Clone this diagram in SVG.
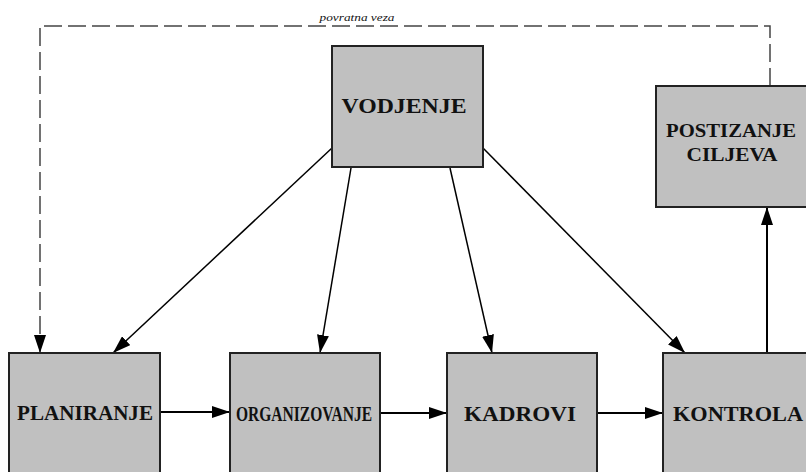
<svg xmlns="http://www.w3.org/2000/svg" width="806" height="472" viewBox="0 0 806 472">
<style>
.box{fill:#c0c0c0;stroke:#222;stroke-width:2}
.lbl{font-family:'Liberation Serif','Times New Roman',Times,serif;font-weight:bold;fill:#111;text-anchor:middle}
.ln{stroke:#000;stroke-width:1.5;fill:none}
.hl{stroke:#000;stroke-width:2;fill:none}
.dash{stroke:#444;stroke-width:1.5;fill:none;stroke-dasharray:18 6}
.note{font-family:'Liberation Serif','Times New Roman',Times,serif;font-style:italic;font-size:11px;fill:#111;text-anchor:middle}
</style>
<defs>
<marker id="ah" markerUnits="userSpaceOnUse" markerWidth="18" markerHeight="12" refX="18" refY="6" orient="auto" viewBox="0 0 18 12">
<path d="M0,0 L18,6 L0,12 z" fill="#000"/>
</marker>
</defs>
<rect width="806" height="472" fill="#fff"/>
<g id="connectors">
<path class="dash" d="M770,86 V26 H40 V353" marker-end="url(#ah)"/>
<text class="note" x="357" y="21" textLength="75" lengthAdjust="spacingAndGlyphs">povratna veza</text>
<line class="ln" x1="332" y1="148" x2="113" y2="353" marker-end="url(#ah)"/>
<line class="ln" x1="351" y1="168" x2="320" y2="353" marker-end="url(#ah)"/>
<line class="ln" x1="450" y1="168" x2="492" y2="353" marker-end="url(#ah)"/>
<line class="ln" x1="483" y1="148" x2="685" y2="353" marker-end="url(#ah)"/>
<line class="hl" x1="160" y1="412" x2="230" y2="412" marker-end="url(#ah)"/>
<line class="hl" x1="380" y1="413" x2="447" y2="413" marker-end="url(#ah)"/>
<line class="hl" x1="597" y1="413" x2="663" y2="413" marker-end="url(#ah)"/>
<line class="hl" x1="767" y1="353" x2="767" y2="207" marker-end="url(#ah)"/>
</g>
<g id="vodjenje">
<rect class="box" x="332" y="46" width="151" height="121"/>
<text class="lbl" x="404" y="113" font-size="22" textLength="125" lengthAdjust="spacingAndGlyphs">VODJENJE</text>
</g>
<g id="postizanje">
<rect class="box" x="656" y="86" width="160" height="121"/>
<text class="lbl" x="731" y="137" font-size="19" textLength="130" lengthAdjust="spacingAndGlyphs">POSTIZANJE</text>
<text class="lbl" x="732" y="161" font-size="19" textLength="91" lengthAdjust="spacingAndGlyphs">CILJEVA</text>
</g>
<g id="planiranje">
<rect class="box" x="9" y="353" width="151" height="130"/>
<text class="lbl" x="85" y="420" font-size="20" textLength="136" lengthAdjust="spacingAndGlyphs">PLANIRANJE</text>
</g>
<g id="organizovanje">
<rect class="box" x="230" y="353" width="150" height="130"/>
<text class="lbl" x="304" y="421" font-size="22" textLength="136" lengthAdjust="spacingAndGlyphs">ORGANIZOVANJE</text>
</g>
<g id="kadrovi">
<rect class="box" x="447" y="353" width="150" height="130"/>
<text class="lbl" x="520" y="421" font-size="22" textLength="112" lengthAdjust="spacingAndGlyphs">KADROVI</text>
</g>
<g id="kontrola">
<rect class="box" x="663" y="353" width="151" height="130"/>
<text class="lbl" x="738" y="421" font-size="22" textLength="130" lengthAdjust="spacingAndGlyphs">KONTROLA</text>
</g>
</svg>
